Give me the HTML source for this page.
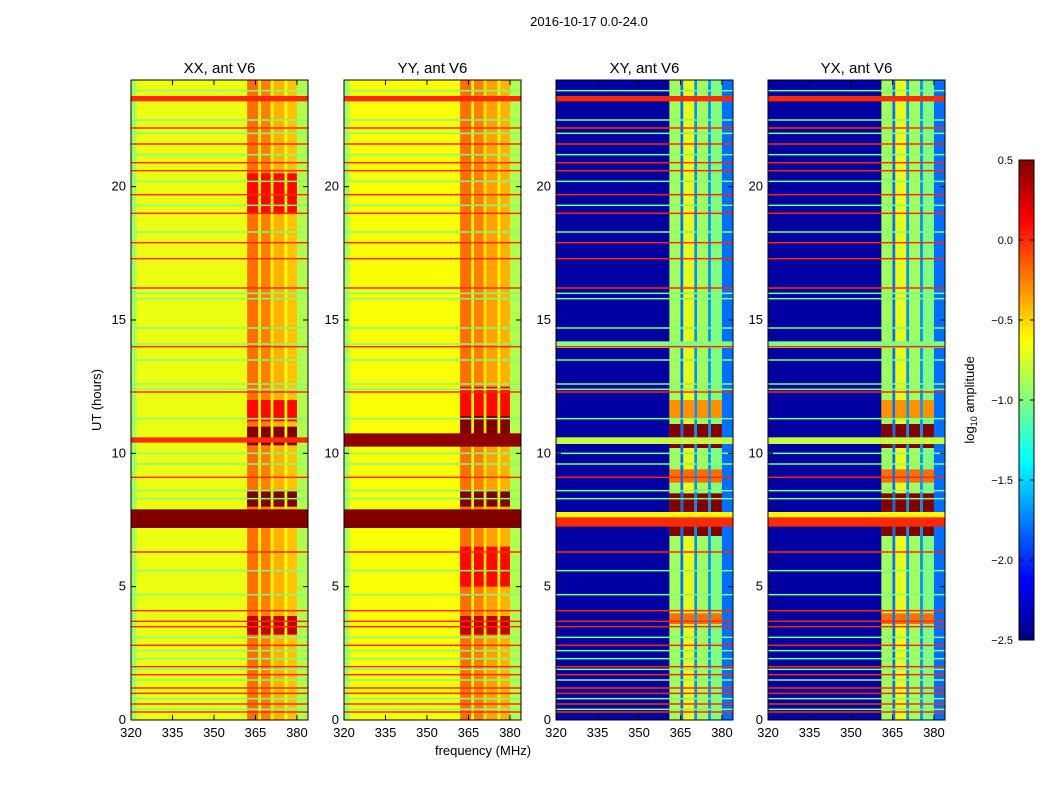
<!DOCTYPE html>
<html><head><meta charset="utf-8">
<style>
body{margin:0;background:#fff;font-family:"Liberation Sans",sans-serif;}
svg text{font-family:"Liberation Sans",sans-serif;}
</style></head>
<body>
<svg id="fig" width="1050" height="800" viewBox="0 0 1050 800" xmlns="http://www.w3.org/2000/svg">
<rect width="1050" height="800" fill="#fff"/>
<text x="589" y="26" font-size="13" text-anchor="middle">2016-10-17 0.0-24.0</text>
<text transform="translate(101,400) rotate(-90)" font-size="13" text-anchor="middle">UT (hours)</text>
<text x="483" y="755" font-size="13" text-anchor="middle">frequency (MHz)</text>
<g id="panels"></g>
<g id="cbar"></g>
</svg>
<script>
// ---- data ----
const panelTitles = ["XX, ant V6","YY, ant V6","XY, ant V6","YX, ant V6"];
const xTicks = [320,335,350,365,380];
const yTicks = [0,5,10,15,20];
const cbarTicks = [0.5,0.0,-0.5,-1.0,-1.5,-2.0,-2.5];
// frequency segments [fStart, fEnd, log10 level]
const colsXX = [[320,322,-0.9],[322,362,-0.68],[362,366,-0.2],[366,367,-0.6],[367,370.5,-0.25],[370.5,371.5,-0.6],[371.5,375.5,-0.4],[375.5,376.5,-0.65],[376.5,380,-0.45],[380,384,-0.85]];
const colsYY = [[320,322,-0.9],[322,362,-0.64],[362,366,-0.2],[366,367,-0.6],[367,370.5,-0.25],[370.5,371.5,-0.55],[371.5,375.5,-0.35],[375.5,376.5,-0.6],[376.5,380,-0.4],[380,384,-0.85]];
const colsXY = [[320,361,-2.4],[361,365,-0.9],[365,366,-1.8],[366,370,-0.7],[370,371,-1.7],[371,375,-0.9],[375,376,-1.7],[376,380,-1.0],[380,384,-1.8]];
// burst blocks on band columns [tStart,tEnd,level]
const burstsXX = [[10.3,11.0,0.5],[8.0,8.6,0.5],[3.2,3.9,0.3],[11.2,12.0,0.1],[19.0,20.5,0.1]];
const burstsYY = [[10.3,11.4,0.5],[8.0,8.6,0.5],[3.2,3.9,0.3],[11.4,12.5,0.1],[5.0,6.5,0.1]];
const burstsXY = [[10.2,11.1,0.5],[7.8,8.5,0.5],[6.9,7.7,0.5],[11.3,12.0,-0.3],[8.9,9.4,-0.2],[3.6,4.0,-0.2]];
// full-width stripes [tStart,tEnd,level]
const stripesXX = [[7.2,7.9,0.5],[10.4,10.6,0.0],[23.2,23.4,0.0]];
const stripesYY = [[7.2,7.9,0.5],[10.25,10.75,0.45],[23.2,23.4,0.0]];
const stripesXY = [[7.25,7.6,0.0],[7.6,7.8,-0.6],[10.35,10.6,-0.8],[13.95,14.2,-1.0],[23.2,23.4,0.0]];
// flagged lines: times
const redLines = [23.3,22.2,21.6,20.9,20.6,19.7,19.0,17.9,17.3,16.2,14.0,12.3,9.1,6.3,4.1,3.7,3.5,2.8,2.0,1.7,1.2,1.0,0.6,0.3];
const greenLines = [23.6,22.5,22.0,21.2,20.2,19.3,18.3,16.0,15.8,14.7,14.1,13.5,12.6,12.4,11.3,10.0,9.6,8.6,8.3,5.6,4.7,3.1,2.6,2.3,1.9,1.5,0.8,0.4];

const panelX = [131,344,556,768];
const panelCols = [colsXX,colsYY,colsXY,colsXY];
const panelBursts = [burstsXX,burstsYY,burstsXY,burstsXY];
const panelStripes = [stripesXX,stripesYY,stripesXY,stripesXY];
const PW=177, PT=80, PB=720, F0=320, F1=384, T1=24;
const VMIN=-2.5, VMAX=0.5;
function jet(v){let t=(v-VMIN)/(VMAX-VMIN);t=Math.max(0,Math.min(1,t));
 const c=x=>Math.round(255*Math.max(0,Math.min(1,1.5-Math.abs(x))));
 return `rgb(${c(4*t-3)},${c(4*t-2)},${c(4*t-1)})`;}
const NS="http://www.w3.org/2000/svg";
function el(tag,attrs,parent){const e=document.createElementNS(NS,tag);for(const k in attrs)e.setAttribute(k,attrs[k]);parent.appendChild(e);return e;}
const yS=t=>PB-(t/T1)*(PB-PT);
const panels=document.getElementById('panels');
panelX.forEach((x0,p)=>{
 const xS=f=>x0+(f-F0)/(F1-F0)*PW;
 const g=el('g',{},panels);
 
 
 const cols=panelCols[p];
 cols.forEach(c=>{const r=el('rect',{x:xS(c[0]),y:PT,width:xS(c[1])-xS(c[0])+0.3,height:PB-PT,fill:jet(c[2])},g);
  
  });
 panelBursts[p].forEach(b=>{cols.forEach(c=>{
  if(c[0]>=361&&c[1]<=380.1&&c[1]-c[0]>2){
   const r=el('rect',{x:xS(c[0]),y:yS(b[1]),width:xS(c[1])-xS(c[0]),height:yS(b[0])-yS(b[1]),fill:jet(b[2])},g);
   
   }});});
 panelStripes[p].forEach(s=>{const r=el('rect',{x:x0,y:yS(s[1]),width:PW,height:yS(s[0])-yS(s[1]),fill:jet(s[2])},g);
  
  });
 greenLines.forEach(t=>{const r=el('rect',{x:x0,y:yS(t)-0.75,width:PW,height:1.5,fill:jet(-1.0)},g);
  
  });
 redLines.forEach(t=>{const r=el('rect',{x:x0,y:yS(t)-0.75,width:PW,height:1.5,fill:jet(0.0)},g);
  
  });
 const fr=el('rect',{x:x0,y:PT,width:PW,height:PB-PT,fill:'none',stroke:'#000','stroke-width':1},g);
 
 
 const tt=el('text',{x:x0+PW/2,y:73,'font-size':15,'text-anchor':'middle'},g);tt.textContent=panelTitles[p];
 
 
 xTicks.forEach(f=>{const x=xS(f);
  el('line',{x1:x,x2:x,y1:PB,y2:PB-5,stroke:'#000'},g);el('line',{x1:x,x2:x,y1:PT,y2:PT+5,stroke:'#000'},g);
  const t=el('text',{x:x,y:PB+17,'font-size':13,'text-anchor':'middle'},g);t.textContent=f;
  
  });
 yTicks.forEach(v=>{const y=yS(v);
  el('line',{x1:x0,x2:x0+5,y1:y,y2:y,stroke:'#000'},g);el('line',{x1:x0+PW,x2:x0+PW-5,y1:y,y2:y,stroke:'#000'},g);
  const t=el('text',{x:x0-5,y:y+4,'font-size':13,'text-anchor':'end'},g);t.textContent=v;
  
  });
});
// colorbar
const cb=document.getElementById('cbar');


const CX=1019,CW=15,CT=160,CB=640;
for(let i=0;i<96;i++){const v=VMIN+(i+0.5)/96*(VMAX-VMIN);const h=(CB-CT)/96;
 el('rect',{x:CX,y:CB-(i+1)*h,width:CW,height:h+0.5,fill:jet(v)},cb);}
el('rect',{x:CX,y:CT,width:CW,height:CB-CT,fill:'none',stroke:'#000'},cb);
cbarTicks.forEach(v=>{const y=CB-(v-VMIN)/(VMAX-VMIN)*(CB-CT);
 el('line',{x1:CX,x2:CX+4,y1:y,y2:y,stroke:'#000'},cb);
 el('line',{x1:CX+CW,x2:CX+CW-4,y1:y,y2:y,stroke:'#000'},cb);
 const t=el('text',{x:CX-6,y:y+4,'font-size':11,'text-anchor':'end'},cb);t.textContent=v.toFixed(1).replace('-','\u2212');
 
 });
const cl=el('text',{transform:'translate(974,400) rotate(-90)','font-size':13,'text-anchor':'middle'},cb);
cl.innerHTML='log<tspan font-size="9" dy="3">10</tspan><tspan dy="-3"> amplitude</tspan>';


</script>
</body></html>
